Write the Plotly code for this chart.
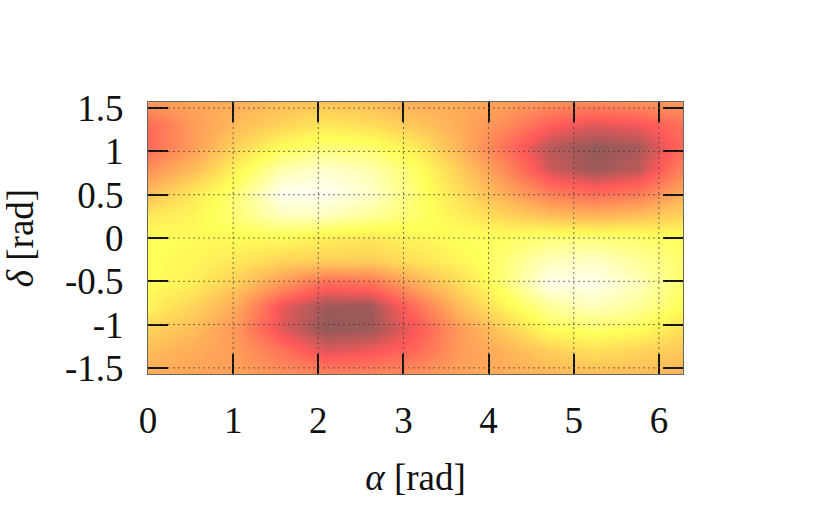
import math
import plotly.graph_objects as go

# grid coordinates (radians)
alpha = [0.0, 0.5236, 1.0472, 1.5708, 2.0944, 2.618, 3.1416, 3.6652,
         4.1888, 4.7124, 5.236, 5.7596, 6.2832]
delta = [-1.5708, -1.309, -1.0472, -0.7854, -0.5236, -0.2618, 0.0,
         0.2618, 0.5236, 0.7854, 1.0472, 1.309, 1.5708]

# field values (rows: delta from -pi/2 to +pi/2)
z_row_m6 = [0.50, 0.48, 0.47, 0.42, 0.38, 0.38, 0.42, 0.47, 0.50, 0.53, 0.55, 0.55, 0.52]
z_row_m5 = [0.55, 0.50, 0.45, 0.33, 0.20, 0.23, 0.30, 0.45, 0.52, 0.60, 0.65, 0.62, 0.58]
z_row_m4 = [0.62, 0.55, 0.43, 0.20, 0.08, 0.10, 0.24, 0.45, 0.60, 0.75, 0.78, 0.75, 0.65]
z_row_m3 = [0.72, 0.62, 0.49, 0.22, 0.10, 0.10, 0.32, 0.55, 0.72, 0.85, 0.90, 0.85, 0.75]
z_row_m2 = [0.75, 0.70, 0.60, 0.44, 0.30, 0.33, 0.50, 0.65, 0.80, 0.97, 0.97, 0.90, 0.78]
z_row_m1 = [0.75, 0.72, 0.68, 0.62, 0.60, 0.60, 0.66, 0.72, 0.80, 0.90, 0.92, 0.85, 0.78]
z_row_0 = [0.75, 0.74, 0.74, 0.74, 0.70, 0.68, 0.72, 0.76, 0.76, 0.80, 0.80, 0.78, 0.75]
z_row_p1 = [0.68, 0.72, 0.80, 0.90, 0.90, 0.85, 0.78, 0.70, 0.62, 0.55, 0.52, 0.55, 0.62]
z_row_p2 = [0.55, 0.68, 0.80, 0.98, 0.98, 0.92, 0.79, 0.65, 0.50, 0.36, 0.30, 0.34, 0.50]
z_row_p3 = [0.42, 0.55, 0.72, 0.88, 0.93, 0.88, 0.77, 0.60, 0.40, 0.18, 0.10, 0.15, 0.38]
z_row_p4 = [0.30, 0.45, 0.62, 0.75, 0.80, 0.78, 0.69, 0.52, 0.32, 0.14, 0.08, 0.11, 0.30]
z_row_p5 = [0.30, 0.45, 0.55, 0.62, 0.68, 0.65, 0.58, 0.50, 0.40, 0.27, 0.20, 0.23, 0.32]
z_row_p6 = [0.45, 0.48, 0.50, 0.55, 0.57, 0.55, 0.50, 0.50, 0.47, 0.42, 0.40, 0.42, 0.45]

z = [z_row_m6, z_row_m5, z_row_m4, z_row_m3, z_row_m2, z_row_m1, z_row_0,
     z_row_p1, z_row_p2, z_row_p3, z_row_p4, z_row_p5, z_row_p6]

x_ticks = [0, 1, 2, 3, 4, 5, 6]
x_labels = ["0", "1", "2", "3", "4", "5", "6"]
y_ticks = [-1.5, -1, -0.5, 0, 0.5, 1, 1.5]
y_labels = ["-1.5", "-1", "-0.5", "0", "0.5", "1", "1.5"]

FONT = "Liberation Serif"
FS = 37

colorscale = [
    [0.0, "rgb(95,89,89)"],
    [0.25, "rgb(255,89,89)"],
    [0.5, "rgb(255,172,89)"],
    [0.75, "rgb(255,255,89)"],
    [1.0, "rgb(255,255,255)"],
]

fig = go.Figure(go.Heatmap(
    x=alpha, y=delta, z=z, zmin=0, zmax=1,
    colorscale=colorscale, zsmooth="best", showscale=False,
    hoverinfo="skip",
))

grid_line = dict(color="rgba(60,60,60,0.7)", width=1, dash="2px,3px")
for xv in x_ticks[1:]:
    fig.add_shape(type="line", xref="x", yref="paper", x0=xv, x1=xv,
                  y0=0, y1=1, line=grid_line, layer="above")
for yv in y_ticks:
    fig.add_shape(type="line", xref="paper", yref="y", x0=0, x1=1,
                  y0=yv, y1=yv, line=grid_line, layer="above")

axis_common = dict(
    ticks="inside", ticklen=20, tickwidth=1.5, tickcolor="#111",
    showline=True, linecolor="#666", linewidth=1, mirror="ticks",
    showgrid=False, zeroline=False, layer="above traces",
    tickfont=dict(family=FONT, size=FS, color="#111"),
)

fig.update_xaxes(
    range=[0, 2 * math.pi], tickmode="array", tickvals=x_ticks,
    ticktext=x_labels, ticklabelstandoff=14,
    title=dict(text="<i>α</i> [rad]", font=dict(family=FONT, size=FS, color="#111"),
               standoff=23),
    **axis_common,
)
fig.update_yaxes(
    range=[-math.pi / 2, math.pi / 2], tickmode="array", tickvals=y_ticks,
    ticktext=y_labels, ticklabelstandoff=16,
    title=dict(text="<i>δ</i> [rad]", font=dict(family=FONT, size=FS, color="#111"),
               standoff=40),
    **axis_common,
)

fig.update_layout(
    width=831, height=514,
    margin=dict(l=148, r=148, t=102, b=140, autoexpand=False),
    paper_bgcolor="white", plot_bgcolor="white",
    showlegend=False,
)

# remove the default page margin so the figure fills the window exactly
fig.write_html("out.html", config={"displayModeBar": False},
               post_script="document.body.style.margin='0';")
